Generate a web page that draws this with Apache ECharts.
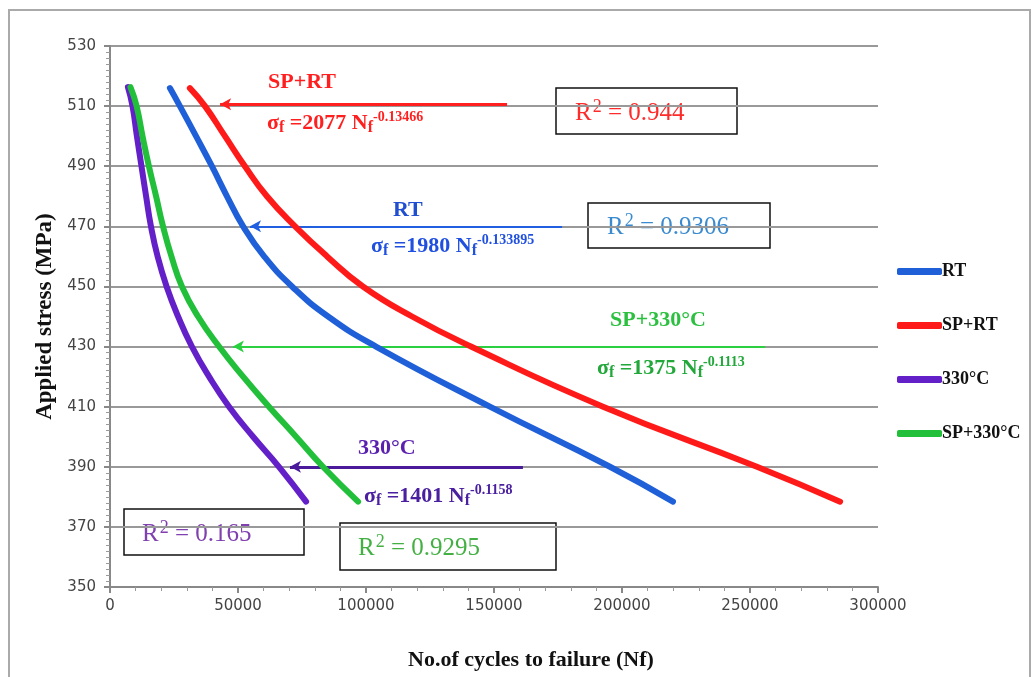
<!DOCTYPE html>
<html>
<head>
<meta charset="utf-8">
<script src="https://cdn.jsdelivr.net/npm/echarts@6/dist/echarts.min.js"></script>
<style>
  html, body { margin: 0; padding: 0; background: #fff; }
  #chart { width: 1035px; height: 677px; }
</style>
</head>
<body>
<div id="chart"></div>
<script>
// 数据：[循环次数, 应力]
var rtData = [[23400, 516], [27300, 510], [33600, 500], [39800, 490], [45700, 480], [52000, 470], [60200, 460], [71100, 450],
  [85200, 440], [103900, 430], [148400, 410], [195300, 390], [219900, 378.4]];
var spRtData = [[31200, 516], [37100, 510], [44900, 500], [52700, 490], [61300, 480], [72300, 470], [84800, 460], [98800, 450],
  [118000, 440], [141000, 430], [192600, 410], [252700, 390], [285200, 378.4]];
var t330Data = [[7000, 516.3], [8800, 510], [10500, 500], [12300, 490], [14100, 480], [16000, 470], [18600, 460], [22100, 450],
  [26600, 440], [32000, 430], [38700, 420], [46500, 410], [55900, 400], [66000, 390], [76600, 378.4]];
var sp330Data = [[8000, 516.3], [10400, 510], [12700, 500], [15200, 490], [18000, 480], [20700, 470], [24000, 460], [28100, 450],
  [34400, 440], [42600, 430], [52000, 420], [62100, 410], [72700, 400], [83200, 390], [96900, 378.4]];
var seriesNames = ['RT', 'SP+RT', '330°C', 'SP+330°C'];
var seriesColors = ['#1f5fd8', '#ff1a1a', '#6420c8', '#22c03a'];

var serif = 'Liberation Serif';

(function(){
  var myChart = echarts.init(document.getElementById('chart'));

  // 箭头
  function arrow(x1, x2, y, color, w) {
    return {
      silent: true,
      symbol: ['none', 'arrow'],
      symbolSize: [9, 11],
      label: { show: false },
      lineStyle: { color: color, width: w, type: 'solid' },
      data: [[{ coord: [x2, y] }, { coord: [x1, y] }]]
    };
  }

  // 公式文字
  function formula(x, y, color, a, c) {
    return {
      type: 'text', left: x, top: y, z: 20,
      style: {
        text: '{m|σ}{s|f}{m| ' + a + ' N}{s|f}{p|' + c + '}',
        rich: {
          m: { fontFamily: serif, fontWeight: 'bold', fontSize: 22, fill: color },
          s: { fontFamily: serif, fontWeight: 'bold', fontSize: 16, fill: color, padding: [9, 0, 0, 0] },
          p: { fontFamily: serif, fontWeight: 'bold', fontSize: 14, fill: color, padding: [0, 0, 13, 0] }
        }
      }
    };
  }

  // R² 方框
  function rBox(x, y, w, h, tx, color, txt) {
    return {
      type: 'group', z: 20,
      children: [
        { type: 'rect', shape: { x: x, y: y, width: w, height: h },
          style: { fill: '#fff', stroke: '#111', lineWidth: 1.5 } },
        { type: 'text', x: tx, y: y + h / 2 + 2,
          style: {
            text: '{r|R}{s|2}{r| = ' + txt + '}',
            verticalAlign: 'middle',
            rich: {
              r: { fontFamily: serif, fontSize: 25, fill: color },
              s: { fontFamily: serif, fontSize: 18, fill: color, padding: [0, 0, 12, 1] }
            }
          } }
      ]
    };
  }

  function label(x, y, txt, color) {
    return { type: 'text', left: x, top: y, z: 20,
      style: { text: txt, fontFamily: serif, fontWeight: 'bold', fontSize: 22, fill: color } };
  }

  var datasets = [rtData, spRtData, t330Data, sp330Data];
  var arrows = [
    arrow(54700, 176600, 470, '#1f5fe0', 2),
    arrow(43000, 155100, 510.6, '#ff1f1f', 3),
    arrow(70300, 161300, 390, '#4a1a9a', 3),
    arrow(48000, 255900, 430, '#2ad040', 2)
  ];

  var series = datasets.map(function (d, i) {
    return {
      name: seriesNames[i],
      type: 'line',
      data: d,
      smooth: 0.5,
      showSymbol: false,
      z: 5,
      lineStyle: { width: 6, color: seriesColors[i], cap: 'round' },
      itemStyle: { color: seriesColors[i] },
      markLine: arrows[i]
    };
  });

  var option = {
    animation: false,
    backgroundColor: '#fff',
    grid: { left: 110, right: 157, top: 46, bottom: 90 },
    legend: {
      orient: 'vertical',
      left: 897, top: 262, padding: 0,
      itemWidth: 45, itemHeight: 7, itemGap: 35,
      icon: 'roundRect',
      data: seriesNames,
      textStyle: { fontFamily: serif, fontWeight: 'bold', fontSize: 18, lineHeight: 19, color: '#111', padding: [0, 0, 0, -5] }
    },
    xAxis: {
      type: 'value', min: 0, max: 300000, interval: 50000,
      axisLine: { show: true, lineStyle: { color: '#888', width: 2 } },
      axisTick: { show: true, length: 6, lineStyle: { color: '#888', width: 2 } },
      minorTick: { show: true, splitNumber: 5, length: 4, lineStyle: { color: '#999' } },
      splitLine: { show: false },
      axisLabel: { fontFamily: 'DejaVu Sans', fontSize: 15, color: '#444', margin: 12,
        formatter: function (v) { return String(v); } }
    },
    yAxis: {
      type: 'value', min: 350, max: 530, interval: 20,
      name: 'Applied stress (MPa)', nameLocation: 'middle', nameGap: 47,
      nameTextStyle: { fontFamily: serif, fontWeight: 'bold', fontSize: 23, color: '#111' },
      axisLine: { show: true, lineStyle: { color: '#888', width: 2 } },
      axisTick: { show: true, length: 6, lineStyle: { color: '#888', width: 2 } },
      minorTick: { show: true, splitNumber: 10, length: 4, lineStyle: { color: '#999' } },
      splitLine: { show: true, lineStyle: { color: '#999', width: 2 } },
      axisLabel: { fontFamily: 'DejaVu Sans', fontSize: 15, color: '#444', margin: 14 }
    },
    graphic: [
      { type: 'rect', z: -1, shape: { x: 9, y: 10, width: 1021, height: 700 },
        style: { fill: 'none', stroke: '#aaa', lineWidth: 2 } },
      { type: 'text', left: 408, top: 649,
        style: { text: 'No.of cycles to failure (Nf)', fontFamily: serif, fontWeight: 'bold', fontSize: 22, fill: '#111' } },
      label(268, 71, 'SP+RT', '#ff1f1f'),
      formula(267, 110, '#ff1f1f', '=2077', '-0.13466'),
      label(393, 199, 'RT', '#1f4fd0'),
      formula(371, 233, '#2050e0', '=1980', '-0.133895'),
      label(610, 309, 'SP+330°C', '#2cc040'),
      formula(597, 355, '#22a83a', '=1375', '-0.1113'),
      label(358, 437, '330°C', '#5a20b0'),
      formula(364, 483, '#4a20a0', '=1401', '-0.1158'),
      rBox(556, 88, 181, 46, 575, '#ff2a2a', '0.944'),
      rBox(588, 203, 182, 45, 607, '#3a8ad0', '0.9306'),
      rBox(124, 509, 180, 46, 142, '#8040b0', '0.165'),
      rBox(340, 523, 216, 47, 358, '#44b044', '0.9295')
    ],
    series: series
  };

  myChart.setOption(option);
  window.addEventListener('resize', function(){
    myChart.resize();
  });
})();
</script>
</body>
</html>
